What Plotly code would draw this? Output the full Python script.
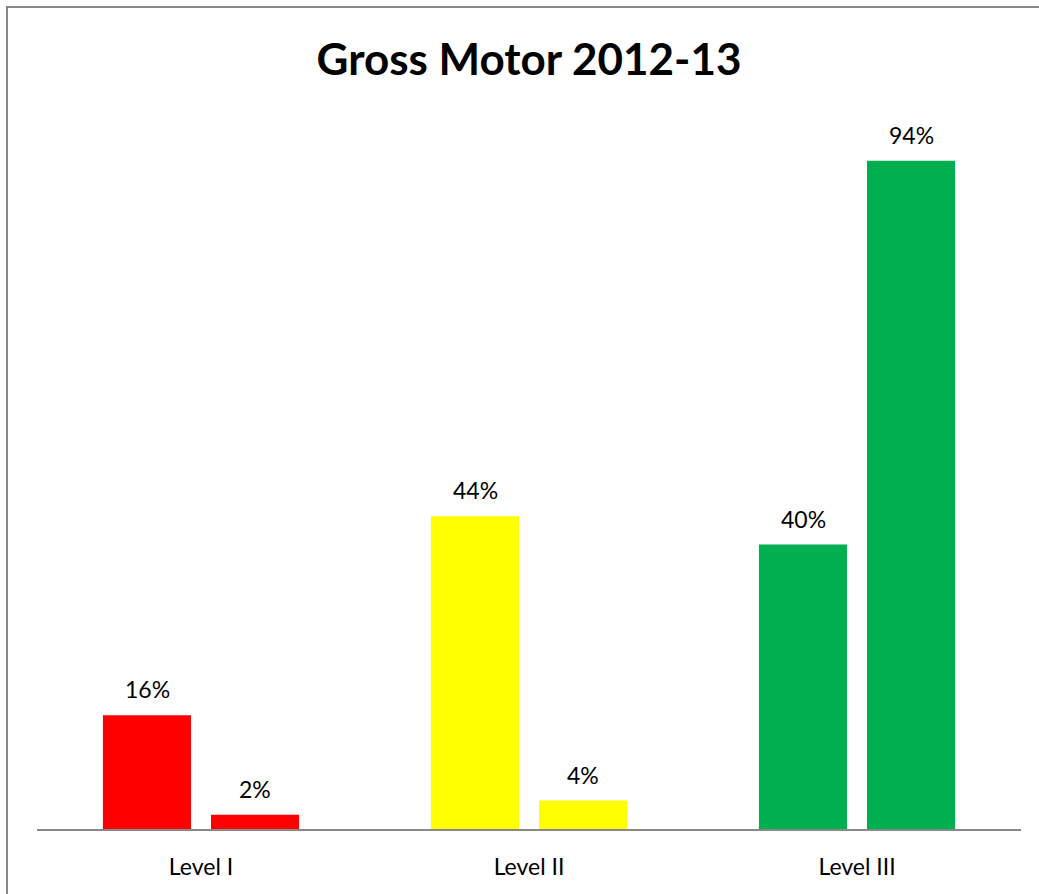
import plotly.graph_objects as go

# Gross motor results by level, two assessment periods
categories = ["Level I", "Level II", "Level III"]
fall_values = [16, 44, 40]
spring_values = [2, 4, 94]
level_colors = ["#FF0000", "#FFFF00", "#00B050"]

W, H = 1039, 894
L, R, T, B = 37, 18, 118, 65

fig = go.Figure()
series = [("Fall", fall_values, -54), ("Spring", spring_values, 54)]
for name, vals, _ in series:
    fig.add_trace(go.Bar(
        x=categories, y=vals, name=name,
        marker=dict(color=level_colors, line=dict(width=0)),
    ))

# Percentage labels above each bar
for name, vals, dx in series:
    for i, v in enumerate(vals):
        fig.add_annotation(
            x=i, y=v, xref="x", yref="y", text=f"{v}%", showarrow=False,
            xshift=dx, yshift=26, yanchor="middle", xanchor="center",
            font=dict(family="Lato", size=23, color="black"),
        )

pw = W - L - R
ph = H - T - B
fig.add_shape(
    type="rect", xref="paper", yref="paper",
    x0=(7 - L) / pw, x1=(W + 20 - L) / pw,
    y0=(H - B - (H + 20)) / ph, y1=(H - B - 7) / ph,
    line=dict(color="#888888", width=2), fillcolor="rgba(0,0,0,0)",
    layer="below",
)

fig.update_layout(
    width=W, height=H,
    margin=dict(l=L, r=R, t=T, b=B),
    paper_bgcolor="white", plot_bgcolor="white",
    showlegend=False,
    barmode="group", bargap=0.341, bargroupgap=0.185,
    title=dict(text="<b>Gross Motor 2012-13</b>", xref="paper", x=0.5,
               xanchor="center", y=1 - 60 / H, yanchor="middle",
               font=dict(family="Lato", size=44, color="black")),
    xaxis=dict(showline=True, linecolor="#898989", linewidth=2,
               showgrid=False, zeroline=False, ticks="",
               ticklabelstandoff=16,
               tickfont=dict(family="Lato", size=23, color="black")),
    yaxis=dict(range=[0, 100], visible=False, showgrid=False, zeroline=False),
)

fig.write_html("out.html")
